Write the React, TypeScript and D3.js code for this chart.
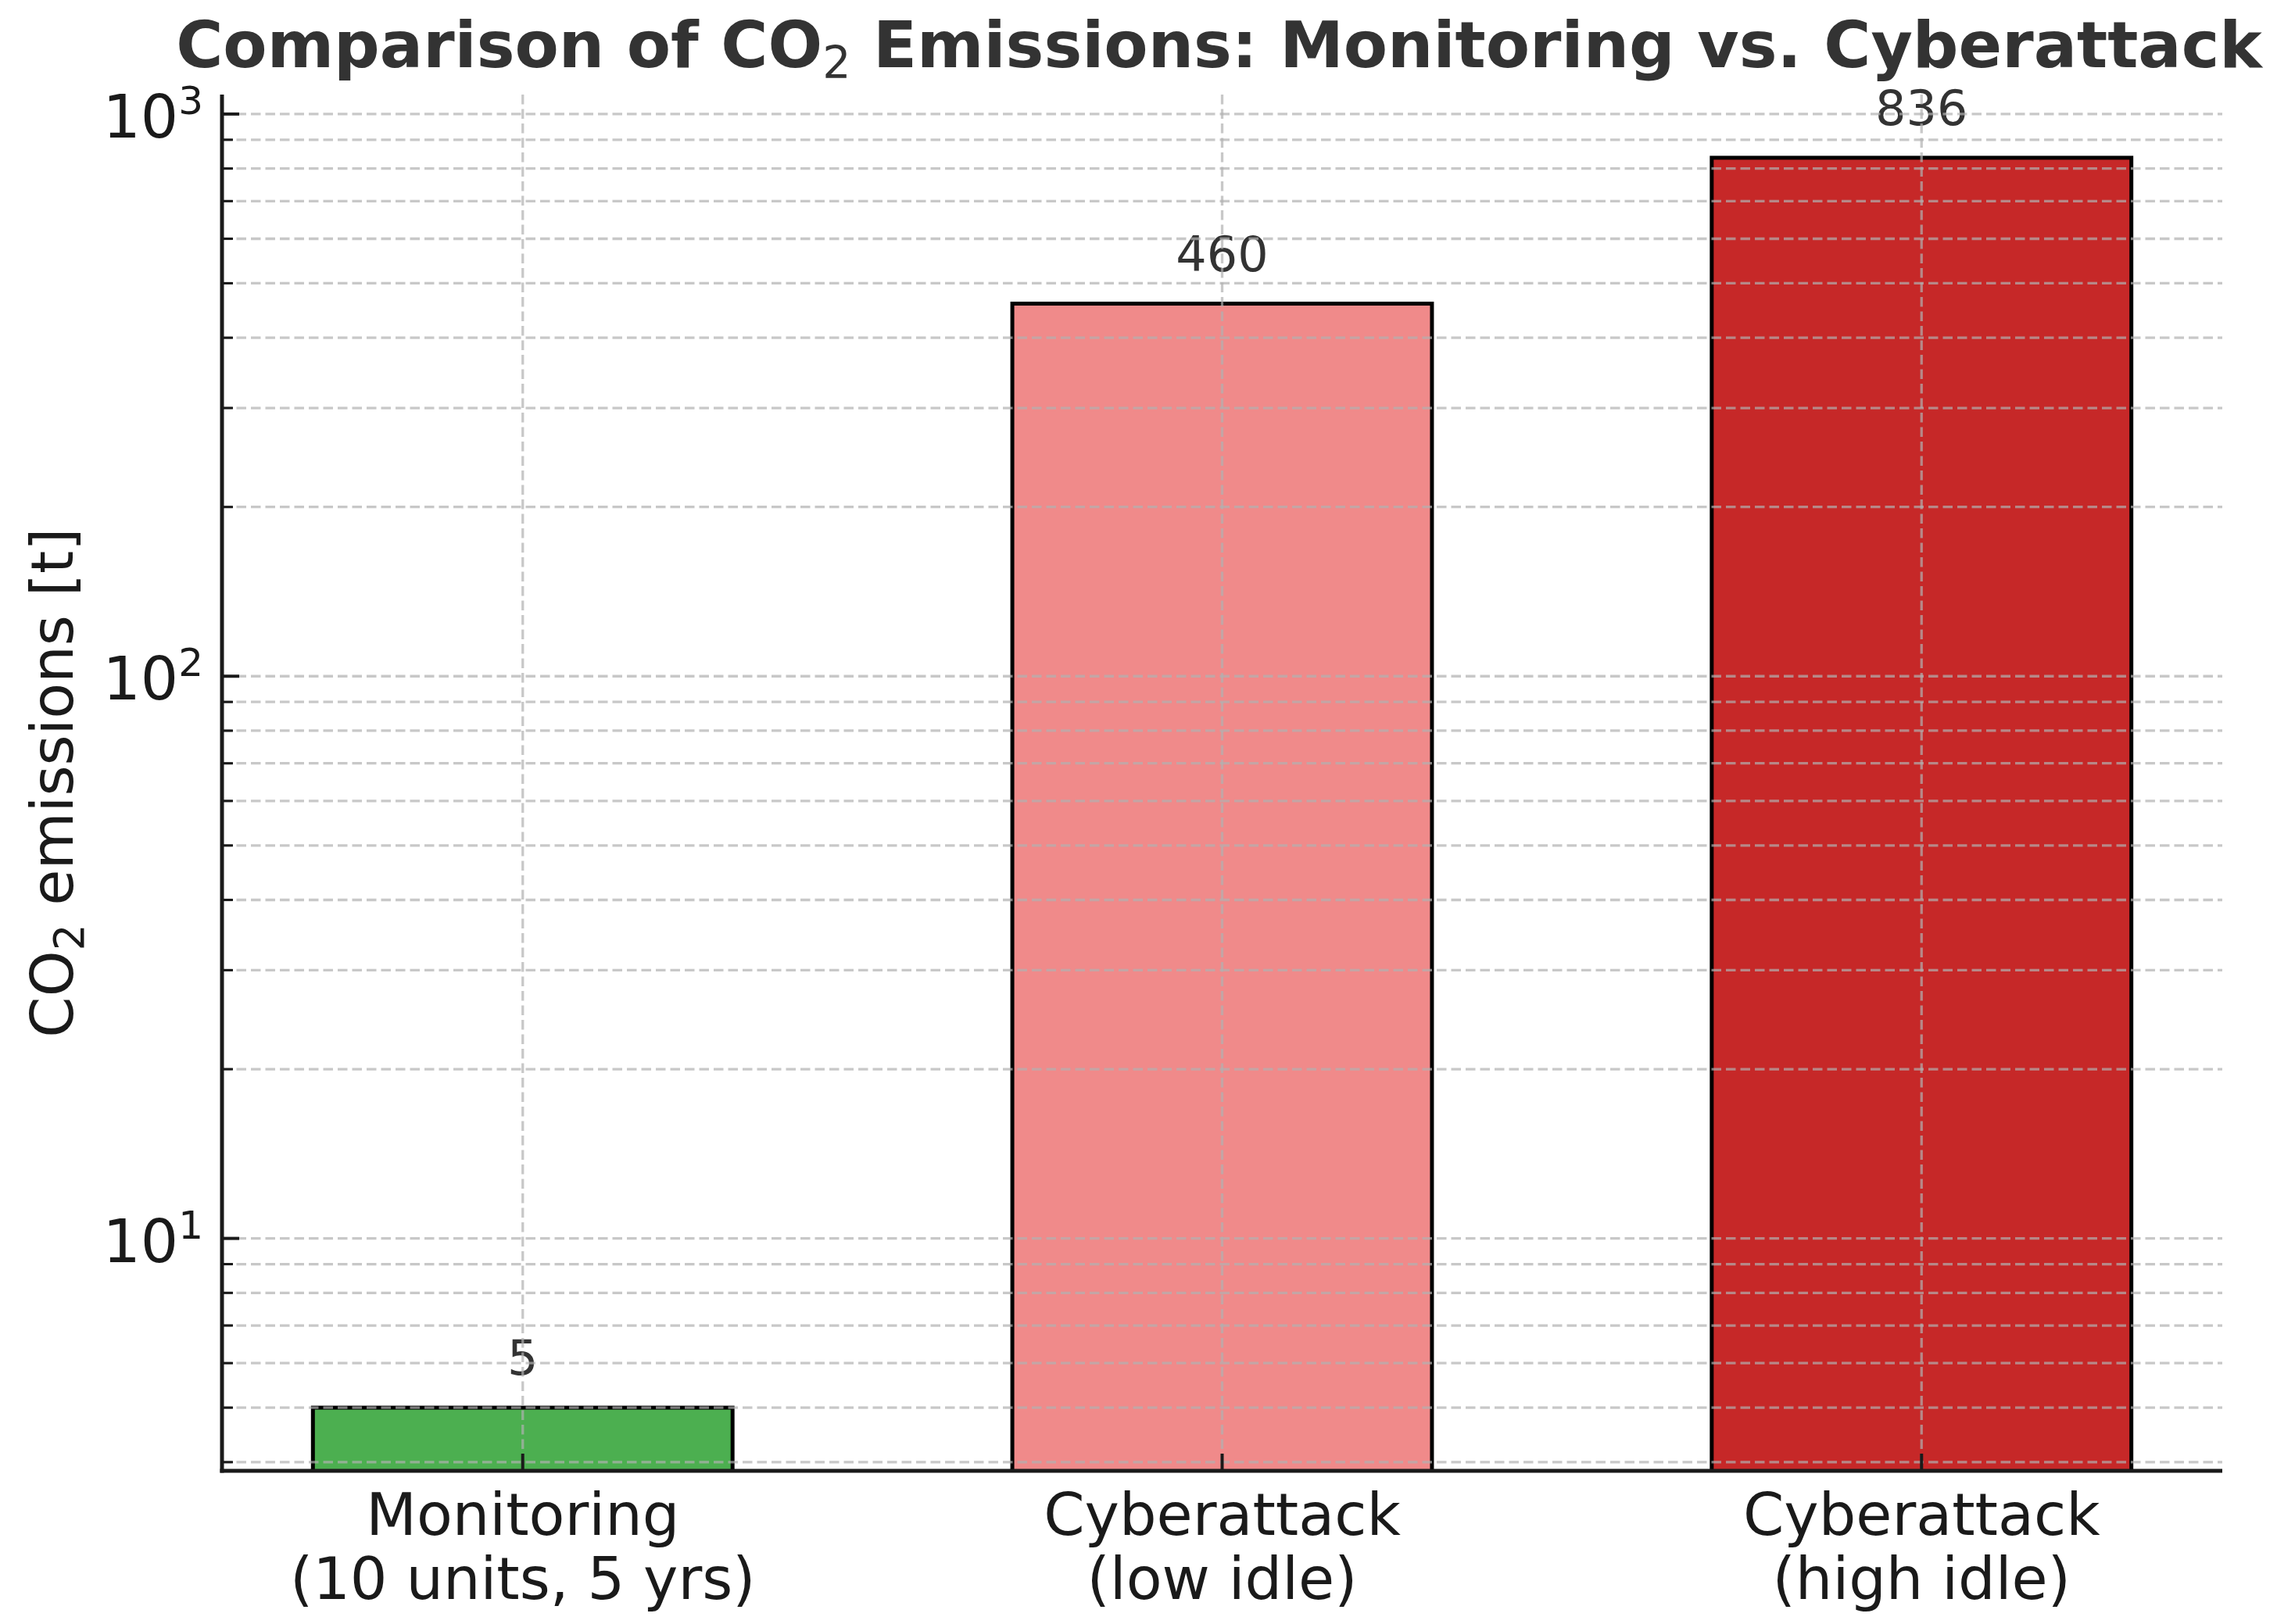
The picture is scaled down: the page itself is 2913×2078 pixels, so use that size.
import React, { useEffect } from "react";
import * as d3 from "d3";

// Chart data
const categories: string[][] = [
  ["Monitoring", "(10 units, 5 yrs)"],
  ["Cyberattack", "(low idle)"],
  ["Cyberattack", "(high idle)"],
];
const emissions: number[] = [5, 460, 836];
const barColors: string[] = ["#4caf50", "#f08a8a", "#c62828"];
const majorTicks: number[] = [10, 100, 1000];
const minorTicks: number[] = [4, 5, 6, 7, 8, 9, 20, 30, 40, 50, 60, 70, 80, 90, 200, 300, 400, 500, 600, 700, 800, 900];

const W = 2913;
const H = 2078;
const margin = { top: 121, right: 70, bottom: 196, left: 284 };
const FONT = "DejaVu Sans, sans-serif";

const App: React.FC = () => {
  useEffect(() => {
    document.body.style.margin = "0";
  }, []);

  const x0 = margin.left;
  const x1 = W - margin.right;
  const y0 = margin.top;
  const y1 = H - margin.bottom;

  const xScale = d3.scaleLinear().domain([-0.43, 2.43]).range([x0, x1]);
  const yScale = d3.scaleLog().domain([3.86, 1083]).range([y1, y0]);
  const barW = xScale(0.6) - xScale(0);

  const gridStyle = {
    stroke: "#b0b0b0",
    strokeOpacity: 0.7,
    strokeWidth: 3.3,
    strokeDasharray: "12.5,6",
  };

  return (
    <svg width={W} height={H} style={{ display: "block", background: "#fff" }}>
      <defs>
        <clipPath id="plot">
          <rect x={x0} y={y0} width={x1 - x0} height={y1 - y0} />
        </clipPath>
      </defs>

      {/* bars */}
      <g clipPath="url(#plot)">
        {emissions.map((v, i) => (
          <rect
            key={i}
            x={xScale(i) - barW / 2}
            y={yScale(v)}
            width={barW}
            height={y1 + 20 - yScale(v)}
            fill={barColors[i]}
            stroke="#000"
            strokeWidth={5}
          />
        ))}
      </g>

      {/* value labels */}
      {emissions.map((v, i) => (
        <text
          key={i}
          x={xScale(i)}
          y={yScale(v) - 42}
          textAnchor="middle"
          fontFamily={FONT}
          fontSize={62}
          fill="#333"
        >
          {v}
        </text>
      ))}

      {/* grid */}
      <g>
        {[...majorTicks, ...minorTicks].map((t) => (
          <line key={t} x1={x0} x2={x1} y1={yScale(t)} y2={yScale(t)} {...gridStyle} />
        ))}
        {emissions.map((_, i) => (
          <line key={i} x1={xScale(i)} x2={xScale(i)} y1={y0} y2={y1} {...gridStyle} />
        ))}
      </g>

      {/* ticks (inward) */}
      <g stroke="#1a1a1a" strokeWidth={4}>
        {majorTicks.map((t) => (
          <line key={t} x1={x0} x2={x0 + 22} y1={yScale(t)} y2={yScale(t)} />
        ))}
        {minorTicks.map((t) => (
          <line key={t} x1={x0} x2={x0 + 14} y1={yScale(t)} y2={yScale(t)} strokeWidth={3} />
        ))}
        {emissions.map((_, i) => (
          <line key={i} x1={xScale(i)} x2={xScale(i)} y1={y1} y2={y1 - 22} />
        ))}
      </g>

      {/* spines */}
      <line x1={x0} x2={x0} y1={y0} y2={y1 + 2.5} stroke="#1a1a1a" strokeWidth={5} />
      <line x1={x0 - 2.5} x2={x1} y1={y1} y2={y1} stroke="#1a1a1a" strokeWidth={5} />

      {/* y tick labels */}
      {majorTicks.map((t) => (
        <text
          key={t}
          x={x0 - 24}
          y={yScale(t) + 30}
          textAnchor="end"
          fontFamily={FONT}
          fontSize={76}
          fill="#1a1a1a"
        >
          10
          <tspan fontSize={50} dy={-30}>
            {Math.round(Math.log10(t))}
          </tspan>
        </text>
      ))}

      {/* x tick labels */}
      {categories.map((lines, i) => (
        <text
          key={i}
          textAnchor="middle"
          fontFamily={FONT}
          fontSize={75}
          fill="#1a1a1a"
        >
          {lines.map((l, j) => (
            <tspan key={j} x={xScale(i)} y={y1 + 82 + j * 82}>
              {l}
            </tspan>
          ))}
        </text>
      ))}

      {/* y axis label */}
      <text
        transform={`translate(93, ${(y0 + y1) / 2}) rotate(-90)`}
        textAnchor="middle"
        fontFamily={FONT}
        fontSize={75}
        fill="#1a1a1a"
      >
        CO
        <tspan fontSize={53} dy={14}>2</tspan>
        <tspan dy={-14}> emissions [t]</tspan>
      </text>

      {/* title */}
      <text
        x={(x0 + x1) / 2 - 4}
        y={86}
        textAnchor="middle"
        fontFamily={FONT}
        fontWeight="bold"
        fontSize={82}
        fill="#333"
      >
        Comparison of CO
        <tspan fontSize={57} fontWeight="normal" dy={14}>2</tspan>
        <tspan dy={-14}> Emissions: Monitoring vs. Cyberattack</tspan>
      </text>
    </svg>
  );
};

export default App;
